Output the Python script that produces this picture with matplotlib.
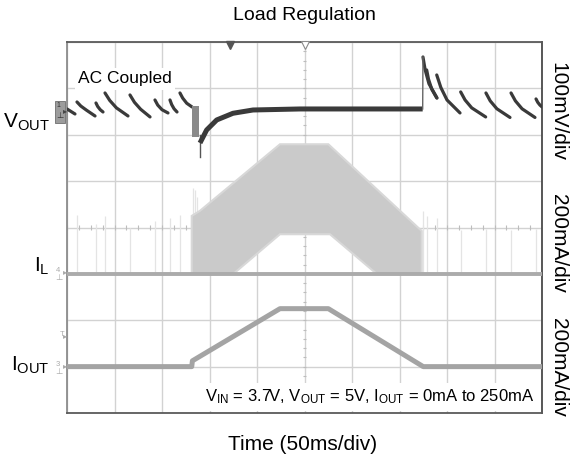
import numpy as np
import matplotlib
matplotlib.use('Agg')
import matplotlib.pyplot as plt
from matplotlib.patches import Rectangle

plt.rcParams['font.family'] = ['Liberation Sans', 'DejaVu Sans']
plt.rcParams['mathtext.fontset'] = 'custom'
plt.rcParams['mathtext.rm'] = 'Liberation Sans'
plt.rcParams['mathtext.it'] = 'Liberation Sans:italic'
plt.rcParams['mathtext.bf'] = 'Liberation Sans:bold'

# ---------------- data ----------------
TIME_MS_PER_DIV = 50
N_XDIV, N_YDIV = 10, 8
VOUT_MV_PER_DIV = 100
IL_MA_PER_DIV = 200
IOUT_MA_PER_DIV = 200
VOUT_OFFSET_DIV = 6.5
IL_OFFSET_DIV = 3.0
IOUT_OFFSET_DIV = 1.0

# output current (mA) vs time (ms)
iout_t = [0, 131.3, 132.0, 224.2, 275.1, 375.0, 500]
iout_ma = [0, 0, 25, 250, 250, 0, 0]

# inductor current envelope (mA)
il_top_t = [131.3, 131.3, 140.0, 224.2, 275.1, 373.4, 373.4]
il_top_ma = [0, 250, 272, 559, 559, 185, 0]
il_bot_t = [131.3, 175.1, 224.2, 276.8, 326.0, 373.4]
il_bot_ma = [0, 0, 171, 171, 0, 0]
il_base_t = [0, 500]
il_base_ma = [0, 0]
il_spike_t = [10.5, 30.5, 40.0, 66.3, 92.6, 108.4, 118.9, 132.5, 134.5, 136.5,
              374.7, 378.6, 389.2, 414.4, 441.0, 467.4, 493.7]
il_spike_ma = [255, 215, 250, 200, 230, 240, 255, 370, 360, 330,
               270, 250, 240, 190, 195, 190, 195]

# output voltage ripple (mV, AC coupled): sawtooth teeth (t ms, mV)
vout_teeth_t = [
    [0, 8.4],
    [10.5, 14.5, 20.5, 29.5],
    [30.5, 32.3, 35.0, 37.9],
    [40.0, 45.0, 52.0, 64.2],
    [66.3, 71.0, 77.5, 87.4],
    [92.6, 95.5, 100.0, 106.3],
    [108.4, 110.2, 112.7, 115.8],
    [118.9, 121.8, 126.0, 131.6],
    [374.7, 377.0, 381.0, 389.5],
    [378.6, 380.5, 384.0, 389.2],
    [389.2, 393.5, 400.0, 413.7],
    [414.4, 419.0, 426.0, 440.7],
    [441.0, 445.5, 452.5, 466.3],
    [467.4, 472.0, 479.0, 492.6],
    [493.7, 495.5, 497.8, 500.0],
]
vout_teeth_mv = [
    [5.6, -5.2],
    [20.7, 12.0, 3.0, -9.5],
    [18.5, 11.0, 4.0, -0.9],
    [40.1, 24.0, 8.0, -9.5],
    [35.8, 20.0, 5.0, -11.6],
    [25.0, 14.0, 4.0, -3.0],
    [25.0, 15.0, 6.0, -0.9],
    [40.1, 29.0, 18.0, 9.9],
    [117.7, 90.0, 60.0, 29.3],
    [89.7, 70.0, 48.0, 29.3],
    [78.9, 52.0, 25.0, -3.0],
    [42.3, 25.0, 8.0, -11.6],
    [40.1, 23.0, 6.0, -12.7],
    [40.1, 23.0, 6.0, -12.7],
    [27.2, 20.0, 14.0, 10.0],
]
# load-step transient and recovery
vout_burst_t = [131.6, 139.0]
vout_burst_lo_mv = [-55, -55]
vout_burst_hi_mv = [12, 12]
vout_dip_t = [140.0, 140.0]
vout_dip_mv = [-50, -98]
vout_rec_t = [140.0, 147.0, 157.6, 174.7, 195.8, 245.3, 374.4]
vout_rec_mv = [-67.7, -39.7, -18.1, -3.7, 3.4, 5.6, 5.6]
vout_step_t = [374.4, 374.7]
vout_step_mv = [5.6, 117.7]

# ---------------- figure ----------------
W, H = 570, 466
fig = plt.figure(figsize=(W / 100, H / 100), dpi=100)
L, T, R, B = 67, 42, 542, 413
ax = fig.add_axes([L / W, 1 - B / H, (R - L) / W, (B - T) / H])
ax.set_xlim(0, N_XDIV * TIME_MS_PER_DIV)
ax.set_ylim(0, N_YDIV)


def div(vals, off, per):
    return off + np.asarray(vals, dtype=float) / per


def fp(x, y):
    return x / W, 1 - y / H


grid_c = '#d2d2d2'
ax.set_xticks(np.arange(0, N_XDIV + 1) * TIME_MS_PER_DIV)
ax.set_yticks(np.arange(0, N_YDIV + 1))
ax.grid(True, color=grid_c, lw=1.0, zorder=0)
ax.tick_params(length=0, labelbottom=False, labelleft=False)
ax.set_axisbelow(True)
for side, c in [('left', '#8c8c8c'), ('top', '#5a5a5a'), ('right', '#4a4a4a'), ('bottom', '#5a5a5a')]:
    ax.spines[side].set_color(c)
    ax.spines[side].set_linewidth(1.3)

# centre-line minor ticks
xc = N_XDIV * TIME_MS_PER_DIV / 2
minor_x = np.arange(0, N_XDIV * TIME_MS_PER_DIV + 0.1, TIME_MS_PER_DIV / 4)
minor_y = np.arange(0, N_YDIV + 0.01, 0.2)
ax.vlines(minor_x, N_YDIV / 2 - 0.05, N_YDIV / 2 + 0.05, color='#bdbdbd', lw=0.8, zorder=1)
ax.hlines(minor_y, xc - 1.6, xc + 1.6, color='#bdbdbd', lw=0.8, zorder=1)

# IL spikes
ax.vlines(il_spike_t, IL_OFFSET_DIV, div(il_spike_ma, IL_OFFSET_DIV, IL_MA_PER_DIV),
          color='#e4e4e4', lw=0.9, zorder=2)
# IL envelope
poly_t = list(il_top_t) + list(il_bot_t[::-1])
poly_y = list(div(il_top_ma, IL_OFFSET_DIV, IL_MA_PER_DIV)) + list(div(il_bot_ma, IL_OFFSET_DIV, IL_MA_PER_DIV)[::-1])
ax.fill(poly_t, poly_y, facecolor='#cacaca', edgecolor='#d8d8d8', lw=1.5, zorder=3)
ax.plot(il_base_t, div(il_base_ma, IL_OFFSET_DIV, IL_MA_PER_DIV), color='#ababab', lw=2.8, zorder=3,
        solid_capstyle='butt')

# IOUT
ax.plot(iout_t, div(iout_ma, IOUT_OFFSET_DIV, IOUT_MA_PER_DIV), color='#a4a4a4', lw=3.6, zorder=4,
        solid_capstyle='butt')

# VOUT
vc = '#3a3a3a'
for tt, vv in zip(vout_teeth_t, vout_teeth_mv):
    ax.plot(tt, div(vv, VOUT_OFFSET_DIV, VOUT_MV_PER_DIV), color=vc, lw=2.3, zorder=5,
            solid_capstyle='round', solid_joinstyle='round')
ax.fill_between(vout_burst_t, div(vout_burst_lo_mv, VOUT_OFFSET_DIV, VOUT_MV_PER_DIV),
                div(vout_burst_hi_mv, VOUT_OFFSET_DIV, VOUT_MV_PER_DIV), color='#8a8a8a', lw=0, zorder=5)
ax.plot(vout_dip_t, div(vout_dip_mv, VOUT_OFFSET_DIV, VOUT_MV_PER_DIV), color='#555555', lw=1.0, zorder=5)
ax.plot(vout_rec_t, div(vout_rec_mv, VOUT_OFFSET_DIV, VOUT_MV_PER_DIV), color=vc, lw=3.6, zorder=5,
        solid_capstyle='butt', solid_joinstyle='round')
ax.plot(vout_step_t, div(vout_step_mv, VOUT_OFFSET_DIV, VOUT_MV_PER_DIV), color='#666666', lw=1.0, zorder=5)

# top markers
ax.plot([172], [N_YDIV - 0.06], marker='v', ms=6, color='#555555', clip_on=False, zorder=6)
ax.plot([xc], [N_YDIV - 0.06], marker='v', ms=6, mfc='white', mec='#8a8a8a', mew=0.8, clip_on=False, zorder=6)

# text
fig.text(*fp(304, 15), 'Load Regulation', ha='center', va='center', fontsize=14)
fig.text(*fp(303, 445), 'Time (50ms/div)', ha='center', va='center', fontsize=15)
fig.text(*fp(78, 79), 'AC Coupled', ha='left', va='center', fontsize=12.5,
         bbox=dict(boxstyle='square,pad=0.2', fc='white', ec='none'), zorder=7)
fig.text(*fp(534, 397),
         r'$\mathregular{V_{IN}}$ = 3.7V, $\mathregular{V_{OUT}}$ = 5V, $\mathregular{I_{OUT}}$ = 0mA to 250mA',
         ha='right', va='center', fontsize=12,
         bbox=dict(boxstyle='square,pad=0.3', fc='white', ec='none'), zorder=7)

for y, s in [(111, '100mV/div'), (243, '200mA/div'), (367, '200mA/div')]:
    fig.text(*fp(558, y), s, rotation=270, ha='center', va='center', fontsize=15)

fig.text(*fp(50, 128), r'$\mathregular{V_{OUT}}$', ha='right', va='baseline', fontsize=15)
fig.text(*fp(50, 272), r'$\mathregular{I_{L}}$', ha='right', va='baseline', fontsize=15)
fig.text(*fp(50, 371), r'$\mathregular{I_{OUT}}$', ha='right', va='baseline', fontsize=15)

# channel markers at left edge
fig.add_artist(Rectangle(fp(55, 123), 10 / W, 22 / H, transform=fig.transFigure,
                         fc='#9c9c9c', ec='#6e6e6e', lw=0.6))
fig.text(*fp(58, 106), '1', ha='center', va='center', fontsize=5, color='#333333')
fig.text(*fp(60, 116), '\u22a5', ha='center', va='center', fontsize=6, color='#333333')
for y, s, c in [(112, '', '#444444'), (273, '4', '#aaaaaa'), (337, 'T', '#aaaaaa'), (367, '3', '#aaaaaa')]:
    fig.text(*fp(65, y), '\u25b8', ha='center', va='center', fontsize=6, color=c)
    if s:
        fig.text(*fp(58 if s != 'T' else 62, y - 3), s, ha='center', va='center', fontsize=5.5, color=c)
        if s != 'T':
            fig.text(*fp(59, y + 5), '\u22a5', ha='center', va='center', fontsize=6, color=c)

fig.savefig('out.png', dpi=100)
